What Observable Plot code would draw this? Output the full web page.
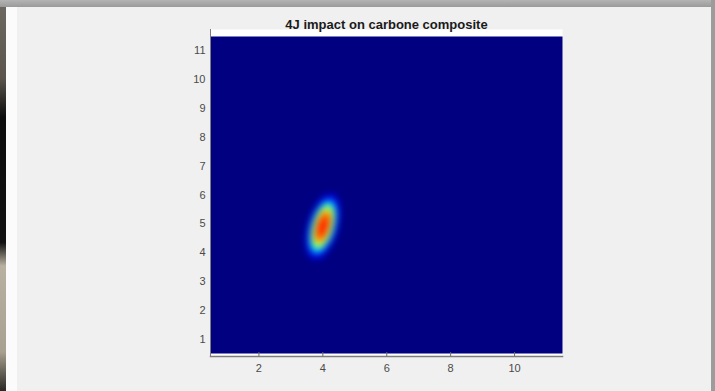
<!DOCTYPE html>
<html>
<head>
<meta charset="utf-8">
<script src="https://cdn.jsdelivr.net/npm/d3@7"></script>
<script src="https://cdn.jsdelivr.net/npm/@observablehq/plot@0.6"></script>
<style>
  html, body { margin: 0; padding: 0; }
  body { width: 715px; height: 391px; position: relative; overflow: hidden; background: #f0f0f0; font-family: "Liberation Sans", Arial, sans-serif; }
  .deco { position: absolute; }
  #chart { position: absolute; left: 0; top: 0; }
</style>
</head>
<body>
<div class="deco" style="left:0;top:0;width:6px;height:391px;background:linear-gradient(#6e6a62 0%, #5a544c 20%, #0c0c0c 30%, #111 62%, #b8b0a0 68%, #a8a090 90%, #2a2824 100%);"></div>
<div class="deco" style="left:6px;top:0;width:11px;height:391px;background:#fbfbfb;"></div>
<div class="deco" style="left:0;top:0;width:715px;height:7px;background:linear-gradient(#b4b4b4, #9a9a9a);"></div>
<div class="deco" style="left:711px;top:0;width:4px;height:391px;background:#9c9c9c;"></div>
<div id="chart"></div>
<script>
// image cell centres (11 x 11 grid of the composite plate)
const cellCenters = [1, 2, 3, 4, 5, 6, 7, 8, 9, 10, 11];
const xTicks = [2, 4, 6, 8, 10];
const yTicks = [1, 2, 3, 4, 5, 6, 7, 8, 9, 10, 11];
const title = "4J impact on carbone composite";

const spotX = [3.34, 3.45, 3.56, 3.67, 3.78, 3.89, 4.0, 4.11, 4.22, 4.33, 4.44, 4.55, 4.66];
const spotY = [3.7, 3.9, 4.1, 4.3, 4.5, 4.7, 4.9, 5.1, 5.3, 5.5, 5.7, 5.9, 6.1];
const spotValues = [
  [0, 0, 0, 0, 0, 0, 0, 0, 0, 0, 0, 0, 0],
  [0, 0, 0.04, 0.10, 0.13, 0.10, 0.04, 0, 0, 0, 0, 0, 0],
  [0, 0.01, 0.11, 0.27, 0.37, 0.36, 0.24, 0.08, 0, 0, 0, 0, 0],
  [0, 0.02, 0.18, 0.41, 0.60, 0.65, 0.53, 0.32, 0.09, 0, 0, 0, 0],
  [0, 0.01, 0.19, 0.49, 0.74, 0.81, 0.79, 0.62, 0.31, 0.06, 0, 0, 0],
  [0, 0, 0.15, 0.47, 0.77, 0.84, 0.85, 0.80, 0.55, 0.21, 0.01, 0, 0],
  [0, 0, 0.07, 0.37, 0.72, 0.84, 0.86, 0.84, 0.72, 0.37, 0.07, 0, 0],
  [0, 0, 0.01, 0.21, 0.55, 0.80, 0.85, 0.84, 0.77, 0.47, 0.15, 0, 0],
  [0, 0, 0, 0.06, 0.31, 0.62, 0.79, 0.81, 0.74, 0.49, 0.19, 0.01, 0],
  [0, 0, 0, 0, 0.09, 0.32, 0.53, 0.65, 0.60, 0.41, 0.18, 0.02, 0],
  [0, 0, 0, 0, 0, 0.08, 0.24, 0.36, 0.37, 0.27, 0.11, 0.01, 0],
  [0, 0, 0, 0, 0, 0, 0.04, 0.10, 0.13, 0.10, 0.04, 0, 0],
  [0, 0, 0, 0, 0, 0, 0, 0, 0, 0, 0, 0, 0]
];

// jet colormap stops
const jetStops = [0, 0.125, 0.375, 0.625, 0.875, 1];
const jetColors = ["#000080", "#0000ff", "#00ffff", "#ffff00", "#ff0000", "#800000"];

const lo = d3.min(cellCenters) - 0.5;
const hi = d3.max(cellCenters) + 0.5;

const points = [];
spotY.forEach((y, i) => spotX.forEach((x, j) => points.push({x, y, v: spotValues[i][j]})));
for (const x of [lo, hi]) for (const y of [lo, hi]) points.push({x, y, v: 0});

const chart = Plot.plot({
  width: 715,
  height: 391,
  marginLeft: 210,
  marginRight: 153,
  marginTop: 29,
  marginBottom: 35,
  style: {background: "transparent", fontFamily: "'Liberation Sans', Arial, sans-serif", overflow: "visible"},
  x: {domain: [lo, hi], range: [210.5, 562]},
  y: {domain: [lo, hi], range: [353, 36]},
  color: {type: "linear", domain: jetStops, range: jetColors, clamp: true},
  marks: [
    Plot.frame({fill: "white", stroke: "none"}),
    Plot.raster(points, {
      x: "x", y: "y", fill: "v",
      interpolate: "barycentric",
      x1: lo, x2: hi, y1: lo, y2: hi,
      blur: 3
    }),
    Plot.frame({anchor: "bottom", stroke: "#7d7d7d", strokeWidth: 1.5}),
    Plot.frame({anchor: "left", stroke: "#7d7d7d", strokeWidth: 1}),
    Plot.axisX({ticks: xTicks, tickSize: -4, tickPadding: 12, fontSize: 11, color: "#4a4a4a", stroke: "#6a6a6a", label: null}),
    Plot.axisY({ticks: yTicks, tickSize: 0, tickPadding: 5, fontSize: 11, color: "#4a4a4a", label: null}),
    Plot.text([title], {frameAnchor: "top", dy: -10, fontWeight: "bold", fontSize: 13, fill: "#1a1a1a"})
  ]
});
document.getElementById("chart").appendChild(chart);
</script>
</body>
</html>
